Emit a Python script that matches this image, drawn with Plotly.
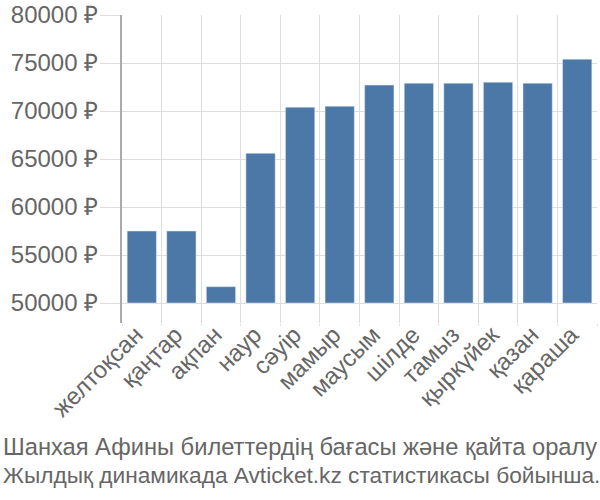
import plotly.graph_objects as go

months = ["желтоқсан", "қаңтар", "ақпан", "наур", "сәуір", "мамыр", "маусым",
          "шілде", "тамыз", "қыркүйек", "қазан", "қараша"]
prices = [57500, 57500, 51700, 65600, 70400, 70500, 72700, 72900, 72900, 73000, 72900, 75400]
tick_vals = [50000, 55000, 60000, 65000, 70000, 75000, 80000]
tick_text = [f"{v} ₽" for v in tick_vals]
title_lines = ["Шанхая Афины билеттердің бағасы және қайта оралу",
               "Жылдық динамикада Avticket.kz статистикасы бойынша."]
base_value = 50000

fig = go.Figure()
fig.add_trace(go.Bar(
    x=months,
    y=[p - base_value for p in prices],
    base=base_value,
    marker=dict(color="#4c78a8"),
    width=0.74,
    hoverinfo="skip",
))

fig.update_layout(
    width=600, height=500,
    margin=dict(l=122, r=3, t=15, b=177, autoexpand=False),
    paper_bgcolor="white", plot_bgcolor="white",
    font=dict(family="Liberation Sans, Arial, sans-serif", color="#666666"),
    showlegend=False,
)
fig.update_xaxes(
    type="category",
    tickson="boundaries",
    automargin=False,
    showgrid=True, gridcolor="#dddddd", gridwidth=1,
    ticks="outside", ticklen=2, tickcolor="#dddddd",
    tickangle=-45,
    ticklabelstandoff=-8, ticklabelshift=-6,
    tickfont=dict(size=24, color="#666666"),
    showline=False,
    zeroline=False,
)
fig.update_yaxes(
    range=[47917, 80000],
    automargin=False,
    tickvals=tick_vals, ticktext=tick_text,
    showgrid=True, gridcolor="#dddddd", gridwidth=1,
    ticks="outside", ticklen=20, tickcolor="#dddddd",
    ticklabelstandoff=-3,
    tickfont=dict(size=24, color="#666666"),
    showline=True, linecolor="#aaaaaa", linewidth=2,
    zeroline=False,
)

plot_top, plot_h, plot_l, plot_w = 15, 308, 122, 475
for line, size, center_px in [(title_lines[0], 23.7, 447), (title_lines[1], 22.7, 475)]:
    fig.add_annotation(
        x=(0 - plot_l) / plot_w, y=(plot_top + plot_h - center_px) / plot_h,
        xref="paper", yref="paper",
        xanchor="left", yanchor="middle",
        xshift=1,
        text=line,
        showarrow=False, align="left",
        font=dict(size=size, color="#666666"),
    )
fig.write_html(
    "out.html",
    config={"displayModeBar": False},
    post_script="document.body.style.margin='0';document.body.style.padding='0';",
)
